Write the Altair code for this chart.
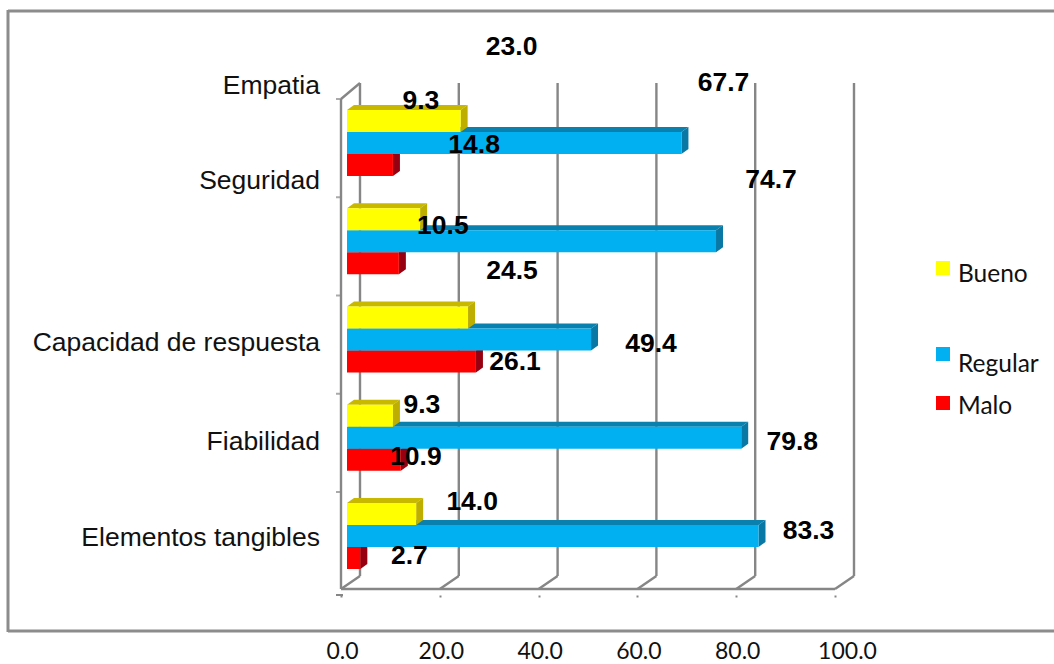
import altair as alt
import pandas as pd

# Survey results per service dimension, percentage of respondents
categories = ["Empatia", "Seguridad", "Capacidad de respuesta", "Fiabilidad", "Elementos tangibles"]
bueno = [23.0, 14.8, 24.5, 9.3, 14.0]
regular = [67.7, 74.7, 49.4, 79.8, 83.3]
malo = [9.3, 10.5, 26.1, 10.9, 2.7]
ticks = [0, 20, 40, 60, 80, 100]

series = ["Bueno", "Regular", "Malo"]
values = {"Bueno": bueno, "Regular": regular, "Malo": malo}
front = {"Bueno": "#FFFF00", "Regular": "#00B0F0", "Malo": "#FF0000"}
top_face = {"Bueno": "#C8B800", "Regular": "#0A80AE", "Malo": "#A80012"}
side_face = {"Bueno": "#BDAE00", "Regular": "#0A78A4", "Malo": "#960010"}

# Scale geometry
W, H = 1054, 664
PX_PER_UNIT = 4.94
PX_PER_ROW = 98.25
ZERO_PX = 341
FIRST_ROW_PX = 110
x_scale = alt.Scale(domain=[-ZERO_PX / PX_PER_UNIT, (W - ZERO_PX) / PX_PER_UNIT], range=[0, W], nice=False, zero=False)
y_scale = alt.Scale(domain=[-FIRST_ROW_PX / PX_PER_ROW, (H - FIRST_ROW_PX) / PX_PER_ROW], range=[0, H], nice=False, zero=False)

BAR_START = 6 / PX_PER_UNIT
BAR_H = 22 / PX_PER_ROW
DEPTH_X = 7 / PX_PER_UNIT
DEPTH_Y = 5 / PX_PER_ROW
WALL_X = 19 / PX_PER_UNIT

GRID = "#868686"
GRID_W = 2.4
FLOOR_Y, BACK_FLOOR_Y = 589, 576
TOP_Y, BACK_TOP_Y = 99, 83


def X(field, **kw):
    return alt.X(field, type="quantitative", scale=x_scale, axis=None, **kw)


def Y(field):
    return alt.Y(field, type="quantitative", scale=y_scale, axis=None)


# Outer frame
frame_df = pd.DataFrame([
    {"a": 8, "b": 8, "c": 10, "d": 632},
    {"a": 8, "b": W, "c": 11, "d": 11},
    {"a": 8, "b": W, "c": 631, "d": 631},
])
frame = alt.Chart(frame_df).mark_rule(color="#8C8C8C", strokeWidth=3).encode(
    x=alt.X("a:Q", scale=None), x2="b:Q", y=alt.Y("c:Q", scale=None), y2="d:Q"
)

# Value axis along the front edge of the floor
tick_df = pd.DataFrame({"v": ticks})
axis_layer = alt.Chart(tick_df).mark_rule(opacity=0).encode(
    x=alt.X("v:Q", scale=x_scale, axis=alt.Axis(
        values=ticks, format=".1f", orient="bottom", offset=-69, domain=False, grid=False,
        tickSize=2, tickColor=GRID, tickWidth=2, labelPadding=43, labelFont="Lato",
        labelFontSize=23, labelColor="#111111", title=None, labelFlush=False,
        labelOverlap=False, labelOffset=alt.expr("datum.value == 100 ? 12 : 1"),
    )),
)

# Back wall, floor and side wall lines
grid_df = pd.DataFrame({"v": ticks})
grid_df["back"] = grid_df["v"] + WALL_X
back_wall = alt.Chart(grid_df).mark_rule(color=GRID, strokeWidth=GRID_W).encode(
    x=X("back:Q"), y=alt.value(BACK_TOP_Y), y2=alt.value(BACK_FLOOR_Y)
)
floor_slants = alt.Chart(grid_df).mark_rule(color=GRID, strokeWidth=GRID_W).encode(
    x=X("v:Q"), x2="back:Q", y=alt.value(FLOOR_Y), y2=alt.value(BACK_FLOOR_Y)
)
front_floor = alt.Chart(pd.DataFrame({"a": [ticks[0]], "b": [ticks[-1]]})).mark_rule(color=GRID, strokeWidth=GRID_W).encode(
    x=X("a:Q"), x2="b:Q", y=alt.value(FLOOR_Y)
)
side_wall = alt.Chart(pd.DataFrame({"a": [0]})).mark_rule(color=GRID, strokeWidth=GRID_W).encode(
    x=X("a:Q"), y=alt.value(TOP_Y), y2=alt.value(FLOOR_Y)
)
top_slant = alt.Chart(pd.DataFrame({"a": [0], "b": [WALL_X]})).mark_rule(color=GRID, strokeWidth=GRID_W).encode(
    x=X("a:Q"), x2="b:Q", y=alt.value(TOP_Y), y2=alt.value(BACK_TOP_Y)
)

# Short marks on the category side, one per band boundary
cat_tick_rows = pd.DataFrame({"r": [(TOP_Y - FIRST_ROW_PX) / PX_PER_ROW + i for i in range(5)]})
cat_ticks = alt.Chart(cat_tick_rows).mark_tick(color=GRID, thickness=2, size=5, orient="horizontal", xOffset=-2.5).encode(
    x=alt.value(ZERO_PX), y=Y("r:Q")
)
zero_tick = alt.Chart(pd.DataFrame({"a": [0]})).mark_rule(color=GRID, strokeWidth=2).encode(
    x=alt.value(ZERO_PX - 5), x2=alt.value(ZERO_PX + 2), y=alt.value(595)
)

# Each band: red at the back, then blue, then yellow, so the faces overlap correctly
bar_layers = []
for s_name in reversed(series):
    s = series.index(s_name)
    bars, tops, sides = [], [], []
    for r, _cat in enumerate(categories):
        y0 = r + s * BAR_H
        y1 = y0 + BAR_H
        x0 = BAR_START
        x1 = BAR_START + values[s_name][r]
        bars.append({"x0": x0, "x1": x1, "y0": y0, "y1": y1})
        for px, up, lo in [(x0, y0, y0), (x0 + DEPTH_X, y0 - DEPTH_Y, y0),
                           (x1, y0 - DEPTH_Y, y0), (x1 + DEPTH_X, y0 - DEPTH_Y, y0 - DEPTH_Y)]:
            tops.append({"id": r, "x": px, "up": up, "lo": lo})
        for px, up, lo in [(x1, y0, y1), (x1 + DEPTH_X, y0 - DEPTH_Y, y1 - DEPTH_Y)]:
            sides.append({"id": r, "x": px, "up": up, "lo": lo})
    bar_layers.append(alt.Chart(pd.DataFrame(tops)).mark_area(orient="vertical", color=top_face[s_name]).encode(
        x=X("x:Q"), y=Y("up:Q"), y2="lo:Q", detail="id:N"))
    bar_layers.append(alt.Chart(pd.DataFrame(sides)).mark_area(orient="vertical", color=side_face[s_name]).encode(
        x=X("x:Q"), y=Y("up:Q"), y2="lo:Q", detail="id:N"))
    bar_layers.append(alt.Chart(pd.DataFrame(bars)).mark_bar(color=front[s_name]).encode(
        x=X("x0:Q"), x2="x1:Q", y=Y("y0:Q"), y2="y1:Q"))

# Value labels, placed relative to the end and middle of their bar
label_dx = {
    "Bueno": [51, 54, 44, 29, 56],
    "Regular": [42, 55, 60, 51, 50],
    "Malo": [28, 44, 39, 15, 49],
}
label_dy = {
    "Bueno": [-74, -74, -47, -11, -12],
    "Regular": [-60, -61, 4, 4, -5],
    "Malo": [-64, -37, 0, -3, -2],
}
label_rows = []
for s, s_name in enumerate(series):
    for r, _cat in enumerate(categories):
        v = values[s_name][r]
        label_rows.append({
            "text": f"{v:.1f}",
            "x": BAR_START + v + label_dx[s_name][r] / PX_PER_UNIT,
            "y": r + (s + 0.5) * BAR_H + label_dy[s_name][r] / PX_PER_ROW,
        })
value_labels = alt.Chart(pd.DataFrame(label_rows)).mark_text(
    font="Liberation Sans", fontWeight="bold", fontSize=26.5, color="#000000", align="center", baseline="middle"
).encode(x=X("x:Q"), y=Y("y:Q"), text="text:N")

# Category names sit at hand-tuned heights
cat_y = [86, 181, 343, 442, 538]
cat_labels = alt.Chart(pd.DataFrame({"c": categories, "y": cat_y})).mark_text(
    font="Liberation Sans", fontSize=26.5, color="#111111", align="right", baseline="middle"
).encode(x=alt.value(320), y=alt.Y("y:Q", scale=None), text="c:N")

# Legend
legend_df = pd.DataFrame({"s": series, "sq": [268, 354, 403], "ty": [275, 365, 407]})
legend_marks = alt.Chart(legend_df).mark_square(size=196, opacity=1).encode(
    x=alt.value(943), y=alt.Y("sq:Q", scale=None),
    color=alt.Color("s:N", scale=alt.Scale(domain=series, range=[front[s] for s in series]), legend=None),
)
legend_text = alt.Chart(legend_df).mark_text(
    font="Lato", fontSize=24.5, color="#111111", align="left", baseline="middle"
).encode(x=alt.value(958), y=alt.Y("ty:Q", scale=None), text="s:N")

chart = alt.layer(
    frame, back_wall, floor_slants, front_floor, side_wall, top_slant, cat_ticks, zero_tick,
    *bar_layers, axis_layer, value_labels, cat_labels, legend_marks, legend_text,
).resolve_axis(x="independent").properties(
    width=W, height=H, padding=0, autosize=alt.AutoSizeParams(type="none"),
    background="#FFFFFF",
).configure_view(stroke=None)

chart.save("out.html", embed_options={"renderer": "svg", "actions": False})
